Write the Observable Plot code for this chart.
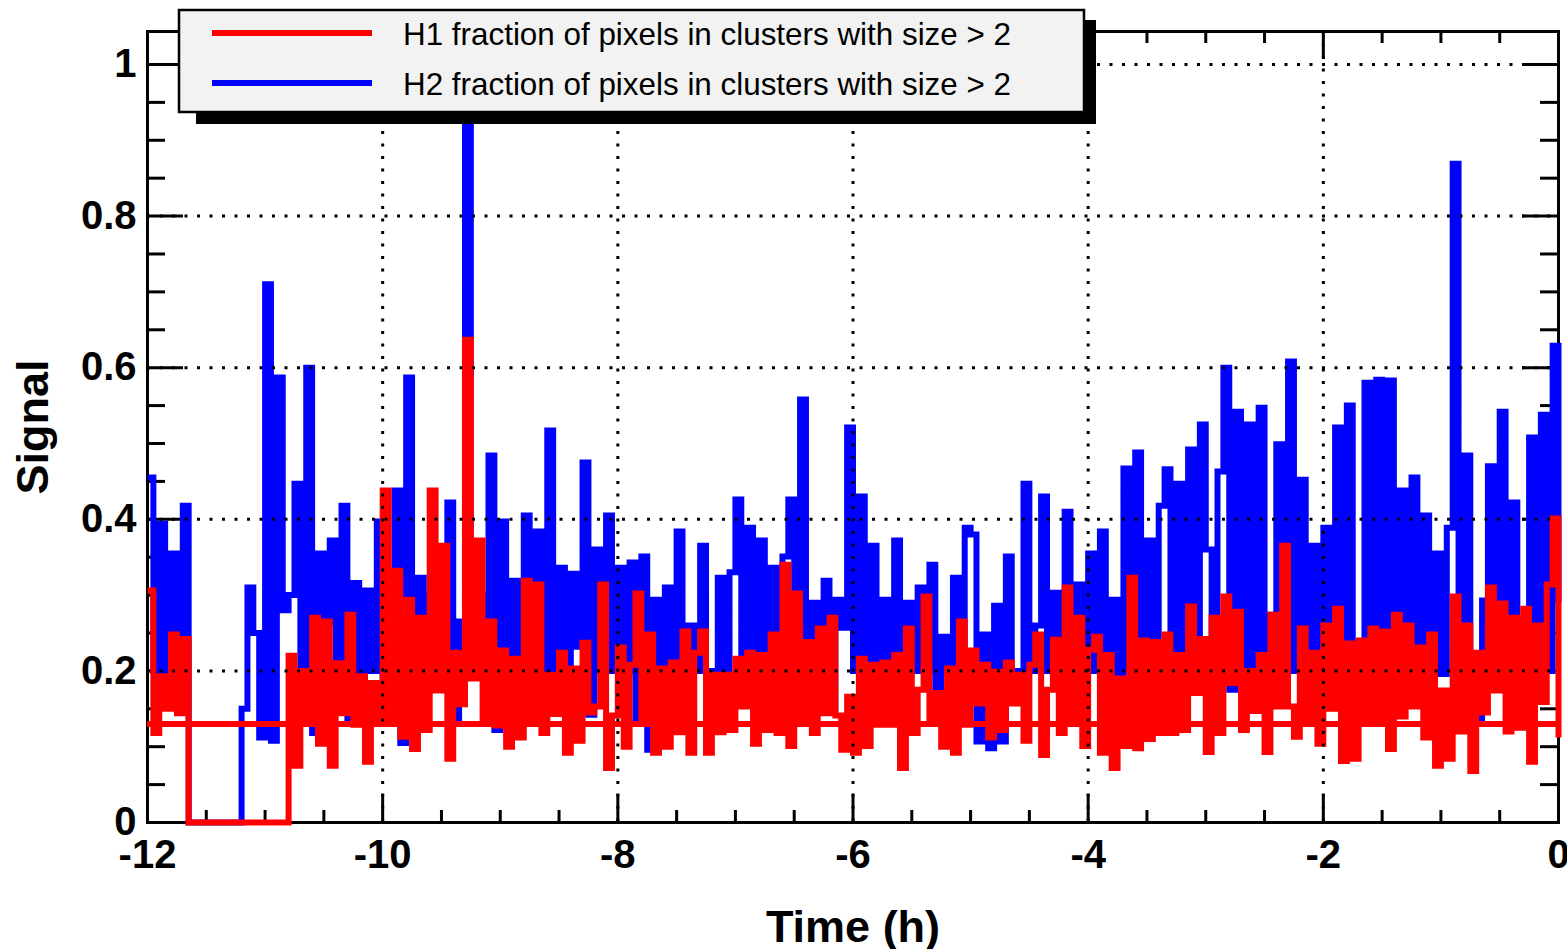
<!DOCTYPE html>
<html>
<head>
<meta charset="utf-8">
<script src="https://cdn.jsdelivr.net/npm/d3@7"></script>
<script src="https://cdn.jsdelivr.net/npm/@observablehq/plot@0.6"></script>
<style>
  html, body { margin: 0; padding: 0; background: #ffffff; }
  #chart { width: 1567px; height: 949px; }
</style>
</head>
<body>
<div id="chart"></div>
<script>
// ---- data (sampled every 0.05 h from -12 h to 0 h) ----
const startHour = -12;
const sampleStep = 0.05;

// H1 fraction of pixels in clusters with size > 2 (red)
const h1Values = [
  0.306,0.118,0.193,0.15,0.248,0.144,0.242,0,0,0,0,0,0,0,0,0,0,0,0,0,
  0,0,0,0,0.22,0.075,0.2,0.138,0.27,0.104,0.265,0.075,0.21,0.144,0.274,0.129,0.193,0.08,0.184,0.132,
  0.438,0.13,0.332,0.113,0.294,0.097,0.27,0.122,0.438,0.174,0.365,0.084,0.224,0.156,0.637,0.19,0.372,0.13,0.265,0.128,
  0.227,0.1,0.216,0.112,0.319,0.138,0.314,0.118,0.195,0.143,0.224,0.092,0.203,0.108,0.237,0.145,0.153,0.314,0.072,0.141,
  0.231,0.1,0.208,0.302,0.135,0.248,0.092,0.203,0.1,0.211,0.119,0.252,0.092,0.224,0.252,0.092,0.195,0.119,0.195,0.122,
  0.216,0.153,0.224,0.104,0.221,0.122,0.248,0.118,0.34,0.101,0.302,0.138,0.238,0.118,0.256,0.144,0.27,0.141,0.096,0.166,
  0.092,0.216,0.101,0.208,0.129,0.211,0.129,0.221,0.072,0.256,0.118,0.175,0.298,0.138,0.171,0.1,0.203,0.092,0.265,0.129,
  0.227,0.157,0.208,0.112,0.199,0.122,0.211,0.157,0.195,0.108,0.208,0.248,0.089,0.175,0.241,0.118,0.31,0.138,0.27,0.101,
  0.228,0.245,0.092,0.221,0.072,0.19,0.101,0.323,0.098,0.24,0.11,0.238,0.118,0.248,0.118,0.221,0.122,0.285,0.171,0.242,
  0.093,0.27,0.118,0.298,0.184,0.278,0.122,0.2,0.147,0.221,0.093,0.274,0.153,0.365,0.153,0.113,0.256,0.132,0.224,0.104,
  0.26,0.15,0.282,0.081,0.236,0.084,0.24,0.135,0.256,0.132,0.252,0.097,0.274,0.14,0.26,0.153,0.231,0.112,0.248,0.075,
  0.174,0.084,0.298,0.12,0.26,0.068,0.224,0.145,0.31,0.174,0.289,0.12,0.27,0.125,0.282,0.08,0.26,0.159,0.314,0.401,
  0.112
];

// H2 fraction of pixels in clusters with size > 2 (blue)
const h2Values = [
  0.455,0.2,0.394,0.17,0.355,0.2,0.418,0,0,0,0,0,0,0,0,0,0.15,0.31,0.25,0.112,
  0.71,0.108,0.587,0.28,0.3,0.447,0.2,0.6,0.118,0.355,0.263,0.372,0.2,0.418,0.134,0.316,0.2,0.306,0.2,0.397,
  0.167,0.274,0.438,0.105,0.587,0.2,0.323,0.2,0.3,0.2,0.2,0.422,0.138,0.265,0.922,0.2,0.3,0.2,0.484,0.122,
  0.397,0.2,0.319,0.2,0.405,0.2,0.384,0.2,0.517,0.2,0.336,0.2,0.328,0.232,0.475,0.142,0.36,0.2,0.405,0.2,
  0.336,0.2,0.343,0.135,0.351,0.096,0.294,0.2,0.31,0.2,0.384,0.2,0.26,0.2,0.365,0.2,0.2,0.323,0.2,0.33,
  0.426,0.2,0.389,0.2,0.372,0.2,0.336,0.2,0.351,0.426,0.2,0.558,0.15,0.29,0.15,0.319,0.15,0.294,0.257,0.521,
  0.2,0.43,0.2,0.365,0.2,0.294,0.2,0.372,0.2,0.29,0.2,0.31,0.2,0.34,0.135,0.245,0.2,0.323,0.2,0.389,
  0.38,0.107,0.248,0.098,0.286,0.107,0.351,0.2,0.2,0.447,0.2,0.26,0.43,0.2,0.303,0.2,0.41,0.2,0.314,0.2,
  0.355,0.2,0.384,0.184,0.294,0.184,0.467,0.2,0.488,0.2,0.372,0.2,0.418,0.466,0.2,0.447,0.2,0.492,0.2,0.525,
  0.36,0.2,0.463,0.6,0.175,0.542,0.2,0.525,0.2,0.547,0.2,0.274,0.499,0.2,0.608,0.2,0.452,0.2,0.365,0.2,
  0.389,0.2,0.521,0.239,0.55,0.2,0.2,0.58,0.2,0.584,0.2,0.583,0.2,0.438,0.2,0.455,0.2,0.405,0.2,0.355,
  0.196,0.389,0.869,0.2,0.484,0.2,0.138,0.293,0.47,0.2,0.542,0.2,0.422,0.2,0.138,0.508,0.2,0.538,0.2,0.629,
  0.29
];

// flat H1 level drawn across the whole window
const h1FlatLevel = 0.13;

const xTicksMajor = [-12, -10, -8, -6, -4, -2, 0];
const xTicksMinor = [-11.5, -11, -10.5, -9.5, -9, -8.5, -7.5, -7, -6.5, -5.5, -5, -4.5, -3.5, -3, -2.5, -1.5, -1, -0.5];
const yTicksMajor = [0, 0.2, 0.4, 0.6, 0.8, 1];
const yTicksMinor = [0.05, 0.1, 0.15, 0.25, 0.3, 0.35, 0.45, 0.5, 0.55, 0.65, 0.7, 0.75, 0.85, 0.9, 0.95];

const seriesNames = ["H1 fraction of pixels in clusters with size > 2", "H2 fraction of pixels in clusters with size > 2"];
const seriesColors = ["#ff0000", "#0000ff"];
const xLabel = "Time (h)";
const yLabel = "Signal";

// ---- build tables ----
const toRows = (vals, name) => vals.map((v, i) => ({ t: startHour + i * sampleStep, v, name }));
const h1Rows = toRows(h1Values, seriesNames[0]);
const h2Rows = toRows(h2Values, seriesNames[1]);

// ---- layout ----
const W = 1567, H = 949;
const mL = 147, mR = 9, mT = 31, mB = 127;
const fw = W - mL - mR, fh = H - mT - mB;
const font = "'Liberation Sans', Arial, Helvetica, sans-serif";
const dots = "3,9.5";
const lineOpts = { x: "t", y: "v", curve: "step-after", strokeWidth: 6, strokeLinejoin: "miter", strokeLinecap: "butt", strokeMiterlimit: 4 };

const plot = Plot.plot({
  width: W, height: H,
  marginLeft: mL, marginRight: mR, marginTop: mT, marginBottom: mB,
  x: { domain: [-12, 0] },
  y: { domain: [0, 1.0435] },
  style: { fontFamily: font, background: "#ffffff", color: "#000000", overflow: "visible" },
  marks: [
    Plot.frame({ stroke: "#000", strokeWidth: 3 }),
    // inward ticks: left / right
    Plot.tickY(yTicksMajor, { y: d => d, insetRight: fw - 36, stroke: "#000", strokeWidth: 3 }),
    Plot.tickY(yTicksMinor, { y: d => d, insetRight: fw - 18, stroke: "#000", strokeWidth: 3 }),
    Plot.tickY(yTicksMajor, { y: d => d, insetLeft: fw - 36, stroke: "#000", strokeWidth: 3 }),
    Plot.tickY(yTicksMinor, { y: d => d, insetLeft: fw - 18, stroke: "#000", strokeWidth: 3 }),
    // inward ticks: bottom / top
    Plot.tickX(xTicksMajor, { x: d => d, insetTop: fh - 28, stroke: "#000", strokeWidth: 3 }),
    Plot.tickX(xTicksMinor, { x: d => d, insetTop: fh - 12, stroke: "#000", strokeWidth: 3 }),
    Plot.tickX(xTicksMajor, { x: d => d, insetBottom: fh - 28, stroke: "#000", strokeWidth: 3 }),
    Plot.tickX(xTicksMinor, { x: d => d, insetBottom: fh - 12, stroke: "#000", strokeWidth: 3 }),
    // series
    Plot.line(h2Rows, { ...lineOpts, stroke: seriesColors[1] }),
    Plot.line(h1Rows, { ...lineOpts, stroke: seriesColors[0] }),
    Plot.ruleY([h1FlatLevel], { stroke: seriesColors[0], strokeWidth: 6 }),
    // dotted grid on top
    Plot.gridX(xTicksMajor.filter(d => d > -12 && d < 0), { stroke: "#000", strokeOpacity: 1, strokeWidth: 3, strokeDasharray: dots }),
    Plot.gridY(yTicksMajor.filter(d => d > 0), { stroke: "#000", strokeOpacity: 1, strokeWidth: 3, strokeDasharray: dots }),
    // labels
    Plot.axisX(xTicksMajor, { tickSize: 0, tickPadding: 17, fontSize: 40, fontWeight: "bold", tickFormat: d => String(d), label: null }),
    Plot.axisY(yTicksMajor, { tickSize: 0, tickPadding: 11, fontSize: 40, fontWeight: "bold", tickFormat: d => String(d), label: null }),
    Plot.text([xLabel], { frameAnchor: "bottom", dy: 119, fontSize: 45, fontWeight: "bold", textAnchor: "middle" }),
    Plot.text([yLabel], { frameAnchor: "left", dx: -114, rotate: -90, fontSize: 45, fontWeight: "bold", textAnchor: "middle" })
  ]
});

// ---- legend (drawn on top, ROOT style box with shadow) ----
const svg = d3.select(plot);
const lg = svg.append("g").attr("class", "legend");
lg.append("rect").attr("x", 196).attr("y", 20).attr("width", 900).attr("height", 104).attr("fill", "#000");
lg.append("rect").attr("x", 179).attr("y", 10).attr("width", 905).attr("height", 102)
  .attr("fill", "#f2f2f2").attr("stroke", "#000").attr("stroke-width", 2.5);
seriesNames.forEach((name, i) => {
  const cy = 33 + i * 50;
  lg.append("line").attr("x1", 212).attr("x2", 372).attr("y1", cy).attr("y2", cy)
    .attr("stroke", seriesColors[i]).attr("stroke-width", 6);
  lg.append("text").attr("x", 403).attr("y", cy + 1)
    .attr("text-anchor", "start").attr("dominant-baseline", "central")
    .attr("font-family", font).attr("font-size", 31.4).attr("font-weight", "normal").attr("fill", "#000")
    .text(name);
});

document.getElementById("chart").appendChild(plot);
</script>
</body>
</html>
